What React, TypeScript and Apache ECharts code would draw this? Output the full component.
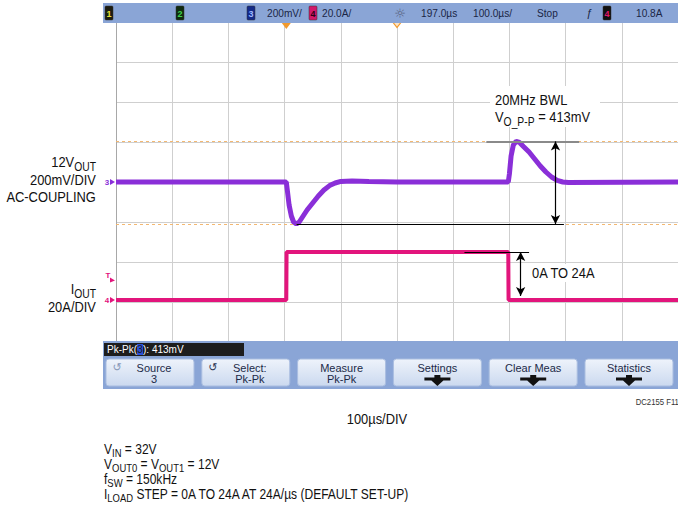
import React, { useEffect, useRef } from "react";
import * as echarts from "echarts";

// ---------- data ----------
// Output voltage deviation (AC coupled), time in µs from left edge of screen
const VOUT_T_US = [0, 303, 305, 308, 312, 316, 321, 326, 333, 340, 350, 360, 370, 380, 390, 400, 420, 450, 500, 698, 700, 703, 707, 712, 718, 725, 735, 745, 755, 765, 775, 785, 795, 805, 1000];
const VOUT_MV = [0, 0, -45, -115, -170, -200, -210, -200, -170, -140, -105, -70, -40, -18, -5, 3, 5, 2, 0, 0, 40, 130, 185, 203, 198, 178, 150, 115, 80, 50, 25, 8, 0, -3, 0];
// Load current step
const IOUT_T_US = [0, 303, 303.5, 698, 698.5, 1000];
const IOUT_A = [0, 0, 24, 24, 0, 0];

const MV_PER_DIV = 200;
const A_PER_DIV = 20;
const IOUT_OFFSET_DIV = -2.95;
const TRIG_T_US = 303;
const TRIG_LEVEL_A = 10.8;
const REF_T_US = 500;
const VPP_MAX_MV = 203;
const VPP_MIN_MV = -210;

const TOP_BAR_ITEMS = ["200mV/", "20.0A/", "197.0µs", "100.0µs/", "Stop", "10.8A"];
const SOFTKEY_TOP = ["Source", "Select:", "Measure", "Settings", "Clear Meas", "Statistics"];
const SOFTKEY_BOTTOM = ["3", "Pk-Pk", "Pk-Pk", "", "", ""];

const FF = "'Liberation Sans', Arial, sans-serif";
const SX = 0.86;

let mctx: CanvasRenderingContext2D | null = null;
function measure(text: string, size: number, family = FF, weight = "normal") {
  if (!mctx) mctx = document.createElement("canvas").getContext("2d");
  mctx!.font = `${weight} ${size}px ${family}`;
  return mctx!.measureText(text).width;
}

type Part = { t: string; sub?: boolean };
function mixText(parts: Part[], x: number, y: number, size: number, align: "left" | "right" | "center", fill = "#111", sx = SX, z = 20, subRatio = 0.78) {
  const subSize = Math.round(size * subRatio);
  const widths = parts.map((p) => measure(p.t, p.sub ? subSize : size) * sx);
  const total = widths.reduce((a, b) => a + b, 0);
  let cx = align === "left" ? x : align === "right" ? x - total : x - total / 2;
  const els: any[] = [];
  parts.forEach((p, i) => {
    els.push({
      type: "text",
      x: cx,
      y: y + (p.sub ? size * 0.3 : 0),
      scaleX: sx,
      z,
      silent: true,
      style: {
        text: p.t,
        fontSize: p.sub ? subSize : size,
        fontFamily: FF,
        fill,
        textAlign: "left",
        textVerticalAlign: "middle",
        verticalAlign: "middle",
      },
    });
    cx += widths[i];
  });
  return els;
}

function plainText(text: string, x: number, y: number, size: number, align: string, fill: string, z = 20, extra: any = {}) {
  const { style: extraStyle, ...rest } = extra;
  return {
    type: "text",
    x,
    y,
    z,
    silent: true,
    ...rest,
    style: { text, fontSize: size, fontFamily: FF, fill, textAlign: align, textVerticalAlign: "middle", verticalAlign: "middle", ...(extraStyle || {}) },
  };
}

function chBox(x: number, label: string, bg: string, fg: string) {
  return [
    { type: "rect", x, y: 6, z: 12, shape: { width: 8, height: 14, r: 1 }, style: { fill: bg, stroke: "#333", lineWidth: 0.5 } },
    plainText(label, x + 4, 13.5, 9, "center", fg, 13, { style: { fontWeight: "bold" } }),
  ];
}

function barText(text: string, x: number) {
  return plainText(text, x, 13, 11.5, "left", "#1a2545", 13, { scaleX: 0.88 });
}

export default function App() {
  const ref = useRef<HTMLDivElement>(null);
  useEffect(() => {
    document.body.style.margin = "0";
    const chart = echarts.init(ref.current!, null, { renderer: "svg" });

    const voutData = VOUT_T_US.map((t, i) => [t, VOUT_MV[i] / MV_PER_DIV]);
    const ioutData = IOUT_T_US.map((t, i) => [t, IOUT_OFFSET_DIV + IOUT_A[i] / A_PER_DIV]);
    const vMax = VPP_MAX_MV / MV_PER_DIV;
    const vMin = VPP_MIN_MV / MV_PER_DIV;
    const iTop = IOUT_OFFSET_DIV + 24 / A_PER_DIV;
    const iBase = IOUT_OFFSET_DIV;

    const none = { symbol: "none" };
    chart.setOption({
      animation: false,
      backgroundColor: "#ffffff",
      grid: { left: 116, top: 22, width: 563, height: 320, containLabel: false },
      xAxis: {
        type: "value",
        min: 0,
        max: 1000,
        interval: 100,
        axisLine: { show: false },
        axisTick: { show: false },
        axisLabel: { show: false },
        splitLine: { show: true, lineStyle: { color: "#cfcfcf", width: 1 } },
      },
      yAxis: {
        type: "value",
        min: -4,
        max: 4,
        interval: 1,
        axisLine: { show: true, onZero: false, lineStyle: { color: "#a8a8a8", width: 1 } },
        axisTick: { show: false },
        axisLabel: { show: false },
        splitLine: { show: true, lineStyle: { color: "#cfcfcf", width: 1 } },
      },
      series: [
        {
          type: "line",
          data: [],
          z: 1,
          markLine: {
            silent: true,
            symbol: "none",
            label: { show: false },
            lineStyle: { color: "#f3b872", type: [3, 3], width: 1 },
            data: [{ yAxis: vMax }, { yAxis: vMin }],
          },
          markPoint: {
            silent: true,
            label: { show: false },
            data: [
              { coord: [TRIG_T_US, 4], symbol: "triangle", symbolRotate: 180, symbolSize: [9, 6], symbolOffset: [0, 4], itemStyle: { color: "#f29a2e" } },
              { coord: [REF_T_US, 4], symbol: "triangle", symbolRotate: 180, symbolSize: [8, 5], symbolOffset: [0, 3], itemStyle: { color: "#fbe3c4", borderColor: "#f29a2e", borderWidth: 1 } },
            ],
          },
        },
        {
          name: "VOUT",
          type: "line",
          data: voutData,
          showSymbol: false,
          z: 3,
          lineStyle: { color: "#8a2fd8", width: 5 },
        },
        {
          name: "IOUT",
          type: "line",
          data: ioutData,
          showSymbol: false,
          z: 3,
          lineStyle: { color: "#e2157c", width: 4 },
        },
        {
          type: "line",
          data: [],
          z: 6,
          markLine: {
            silent: true,
            label: { show: false },
            symbolSize: [7, 9],
            lineStyle: { color: "#000", width: 1.2, type: "solid" },
            data: [
              [{ coord: [659, vMax], lineStyle: { color: "#8a8a8a", width: 2 }, ...none }, { coord: [824, vMax], ...none }],
              [{ coord: [321, vMin], ...none }, { coord: [797, vMin], ...none }],
              [{ coord: [782, vMax], symbol: "arrow" }, { coord: [782, vMin], symbol: "arrow" }],
              [{ coord: [620, iTop], ...none }, { coord: [735, iTop], ...none }],
              [{ coord: [720, iTop], symbol: "arrow" }, { coord: [720, iBase + 0.1], symbol: "arrow" }],
            ],
          },
        },
      ],
    });

    const p = (t: number, v: number) => chart.convertToPixel({ gridIndex: 0 }, [t, v]) as number[];
    const y3 = p(0, 0)[1];
    const y4 = p(0, iBase)[1];
    const yT = p(0, IOUT_OFFSET_DIV + TRIG_LEVEL_A / A_PER_DIV)[1];

    const g: any[] = [];
    // top status bar
    g.push({ type: "rect", x: 103, y: 3, z: 10, shape: { width: 580, height: 20 }, style: { fill: "#8aa5d6" } });
    g.push(...chBox(105, "1", "#1c1c10", "#e8e23a"));
    g.push(...chBox(176, "2", "#102a10", "#3ed24a"));
    g.push(...chBox(247, "3", "#142a88", "#9fb8ff"));
    g.push(barText(TOP_BAR_ITEMS[0], 267));
    g.push(...chBox(309, "4", "#d0186a", "#2a0015"));
    g.push(barText(TOP_BAR_ITEMS[1], 322));
    g.push(plainText("☼", 400, 13, 13, "center", "#56627e", 13, { style: { fontFamily: "DejaVu Sans" } }));
    g.push(barText(TOP_BAR_ITEMS[2], 421));
    g.push(barText(TOP_BAR_ITEMS[3], 473));
    g.push(barText(TOP_BAR_ITEMS[4], 537));
    g.push(plainText("ƒ", 589, 13, 11, "center", "#1a2545", 13, { style: { fontStyle: "italic" } }));
    g.push(...chBox(603, "4", "#111", "#e0186a"));
    g.push(barText(TOP_BAR_ITEMS[5], 636));

    // soft-key bar
    g.push({ type: "rect", x: 103, y: 341, z: 10, shape: { width: 580, height: 48 }, style: { fill: "#8aa5d6" } });
    g.push({ type: "rect", x: 104, y: 343, z: 11, shape: { width: 140, height: 13 }, style: { fill: "#1d1d1d" } });
    g.push(plainText("Pk-Pk(", 107, 349.5, 10, "left", "#ffffff", 12));
    const w1 = measure("Pk-Pk(", 10);
    g.push({ type: "rect", x: 107 + w1, y: 344, z: 11, shape: { width: 6, height: 11 }, style: { fill: "#2a4fd8" } });
    g.push(plainText("3", 107 + w1 + 3, 349.5, 10, "center", "#1d1d1d", 12));
    g.push(plainText("): 413mV", 107 + w1 + 6, 349.5, 10, "left", "#ffffff", 12));
    SOFTKEY_TOP.forEach((lab, i) => {
      const bx = 106 + i * 95.8;
      const cx = bx + 44;
      g.push({
        type: "rect",
        x: bx,
        y: 359,
        z: 11,
        shape: { width: 88, height: 27, r: 3 },
        style: {
          fill: new echarts.graphic.LinearGradient(0, 0, 0, 1, [
            { offset: 0, color: "#eef3fb" },
            { offset: 1, color: "#cbd9ef" },
          ]),
          stroke: "#a9bde0",
          lineWidth: 1,
        },
      });
      g.push(plainText(lab, cx + (i < 2 ? 4 : 0), 367.5, 11, "center", "#1c2a48", 12));
      if (SOFTKEY_BOTTOM[i]) {
        g.push(plainText(SOFTKEY_BOTTOM[i], cx + (i < 2 ? 4 : 0), 378.5, 11, "center", "#1c2a48", 12));
      } else {
        g.push({
          type: "polygon",
          z: 12,
          shape: {
            points: [
              [cx - 13, 377.5], [cx + 13, 377.5], [cx + 13, 380.5], [cx + 6, 380.5], [cx, 386], [cx - 6, 380.5], [cx - 13, 380.5],
            ],
          },
          style: { fill: "#111" },
        });
        g.push({ type: "rect", x: cx - 3, y: 375, z: 12, shape: { width: 6, height: 4 }, style: { fill: "#111" } });
      }
      if (i < 2) {
        g.push(plainText("↺", bx + 11, 367, 11, "center", i === 0 ? "#8797b8" : "#2a3552", 12, { style: { fontFamily: "DejaVu Sans" } }));
      }
    });

    // channel markers on the left
    g.push(plainText("3", 107, y3, 8, "center", "#8a2fd8", 12, { style: { fontWeight: "bold" } }));
    g.push({ type: "polygon", z: 12, shape: { points: [[110, y3 - 3], [115, y3], [110, y3 + 3]] }, style: { fill: "#8a2fd8" } });
    g.push(plainText("4", 107, y4, 8, "center", "#e2157c", 12, { style: { fontWeight: "bold" } }));
    g.push({ type: "polygon", z: 12, shape: { points: [[110, y4 - 3], [115, y4], [110, y4 + 3]] }, style: { fill: "#e2157c" } });
    g.push(plainText("T", 108, yT - 3, 8, "center", "#e2157c", 12, { style: { fontWeight: "bold" } }));
    g.push({ type: "polygon", z: 12, shape: { points: [[110, yT - 1], [115, yT + 2], [110, yT + 4]] }, style: { fill: "#e2157c" } });

    // annotation backgrounds and texts
    g.push({ type: "rect", x: 490, y: 86, z: 15, shape: { width: 110, height: 41 }, style: { fill: "#fff" } });
    g.push(...mixText([{ t: "20MHz BWL" }], 495, 100, 15, "left"));
    g.push(...mixText([{ t: "V" }, { t: "O_P-P", sub: true }, { t: " = 413mV" }], 495, 117, 15, "left"));
    g.push({ type: "rect", x: 530, y: 264, z: 15, shape: { width: 70, height: 18 }, style: { fill: "#fff" } });
    g.push(...mixText([{ t: "0A TO 24A" }], 532, 273, 15, "left"));

    // left labels
    g.push(...mixText([{ t: "12V" }, { t: "OUT", sub: true }], 96, 162, 15, "right"));
    g.push(...mixText([{ t: "200mV/DIV" }], 96, 180, 15, "right"));
    g.push(...mixText([{ t: "AC-COUPLING" }], 96, 197, 15, "right"));
    g.push(...mixText([{ t: "I" }, { t: "OUT", sub: true }], 96, 289, 15, "right"));
    g.push(...mixText([{ t: "20A/DIV" }], 96, 307, 15, "right"));

    // bottom texts
    g.push(...mixText([{ t: "100µs/DIV" }], 377, 419, 15, "center"));
    g.push(...mixText([{ t: "DC2155 F11" }], 679, 402, 9, "right", "#333"));
    const x0 = 104;
    const fs = 14;
    g.push(...mixText([{ t: "V" }, { t: "IN", sub: true }, { t: " = 32V" }], x0, 449, fs, "left"));
    g.push(...mixText([{ t: "V" }, { t: "OUT0", sub: true }, { t: " = V" }, { t: "OUT1", sub: true }, { t: " = 12V" }], x0, 464, fs, "left"));
    g.push(...mixText([{ t: "f" }, { t: "SW", sub: true }, { t: " = 150kHz" }], x0, 479, fs, "left"));
    g.push(...mixText([{ t: "I" }, { t: "LOAD", sub: true }, { t: " STEP = 0A TO 24A AT 24A/µs (DEFAULT SET-UP)" }], x0, 494, fs, "left"));

    chart.setOption({ graphic: { elements: g } });

    return () => chart.dispose();
  }, []);
  return <div ref={ref} style={{ position: "fixed", left: 0, top: 0, width: 678, height: 508 }} />;
}
